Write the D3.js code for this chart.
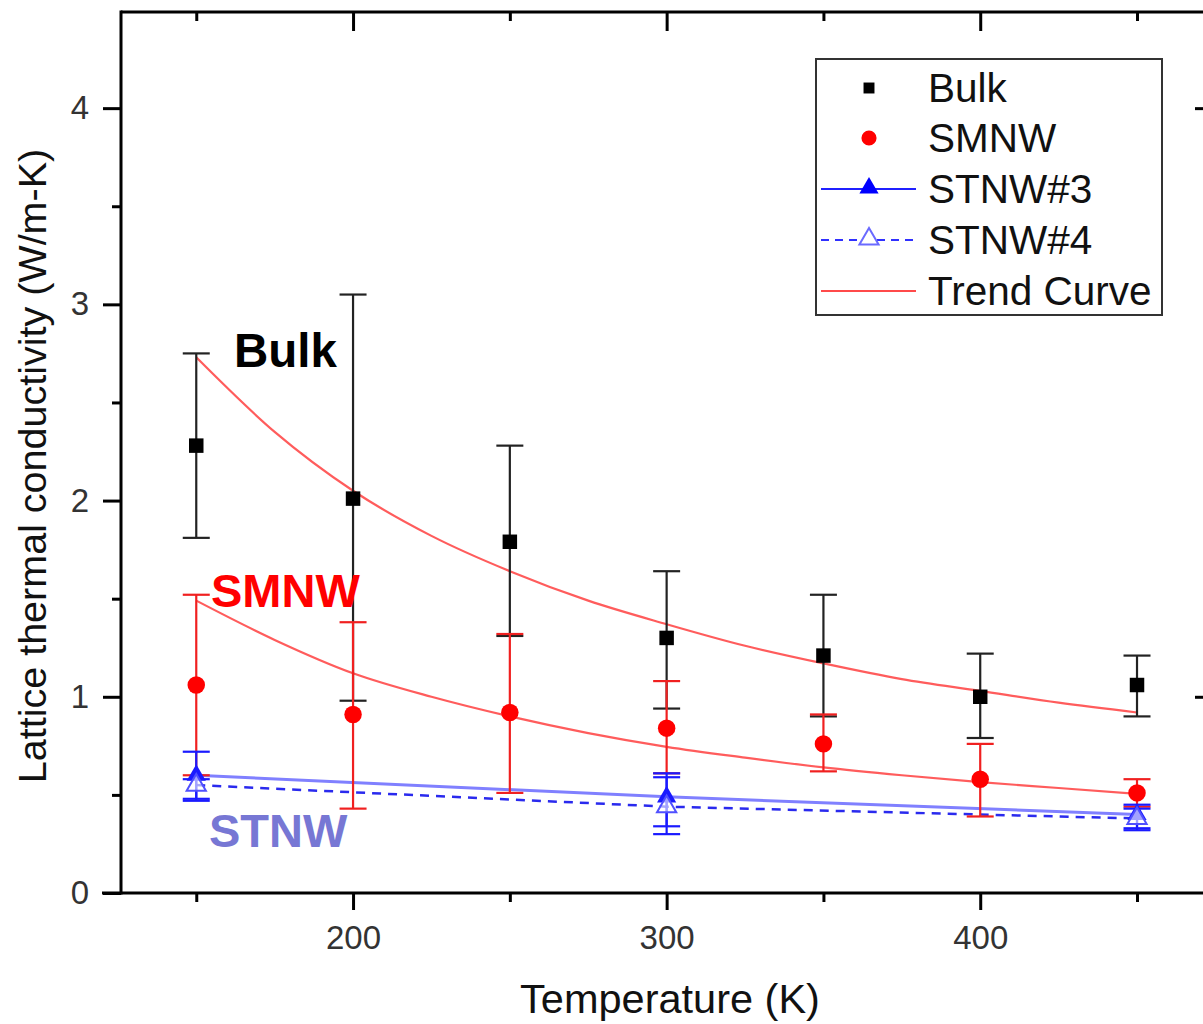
<!DOCTYPE html>
<html><head><meta charset="utf-8">
<script src="https://cdn.jsdelivr.net/npm/d3@7"></script>
<style>
body{margin:0;background:#fff;}
svg{display:block;font-family:"Liberation Sans",Arial,sans-serif;}
</style></head>
<body><svg id="c" width="1203" height="1024"></svg>
<script>
// ---- data ----
const temps   = [150, 200, 250, 300, 350, 400, 450];
const bulk    = [2.28, 2.01, 1.79, 1.30, 1.21, 1.00, 1.06];
const bulkHi  = [2.75, 3.05, 2.28, 1.64, 1.52, 1.22, 1.21];
const bulkLo  = [1.81, 0.98, 1.31, 0.94, 0.90, 0.79, 0.90];
const smnw    = [1.06, 0.91, 0.92, 0.84, 0.76, 0.58, 0.51];
const smnwHi  = [1.52, 1.38, 1.32, 1.08, 0.91, 0.76, 0.58];
const smnwLo  = [0.60, 0.43, 0.51, 0.61, 0.62, 0.39, 0.44];
const stnwT   = [150, 300, 450];
const stnw3   = [0.60, 0.49, 0.40];
const stnw3Hi = [0.72, 0.61, 0.45];
const stnw3Lo = [0.47, 0.30, 0.33];
const stnw4   = [0.55, 0.44, 0.38];
const stnw4Hi = [0.58, 0.59, 0.43];
const stnw4Lo = [0.48, 0.34, 0.32];
const trendT     = [150,175,200,225,250,275,300,325,350,375,400,425,450];
const bulkTrend  = [2.73,2.35,2.05,1.82,1.64,1.49,1.37,1.26,1.17,1.09,1.03,0.97,0.92];
const smnwTrend  = [1.49,1.29,1.12,1.00,0.90,0.815,0.745,0.69,0.64,0.60,0.565,0.535,0.505];
const xMajor = [200, 300, 400];
const xMinor = [150, 250, 350, 450];
const yMajor = [0, 1, 2, 3, 4];
const yMinor = [0.5, 1.5, 2.5, 3.5];
const yRightTicks = [1, 4];
const legendLabels = ["Bulk", "SMNW", "STNW#3", "STNW#4", "Trend Curve"];

// ---- layout ----
const svg = d3.select("#c");
const L = 121, R = 1206, T = 12, B = 893;
const x = d3.scaleLinear().domain([126, 472]).range([L, R]);
const y = d3.scaleLinear().domain([0, 4.49]).range([B, T]);

const RED = "#ff0000", BLUE = "#1a1aff";

function styleAxis(g, w) {
  g.select(".domain").remove();
  g.selectAll(".tick line").attr("stroke", "#000").attr("stroke-width", w);
  g.selectAll(".tick text").attr("fill", "#333").attr("font-size", 33)
    .attr("font-family", "Liberation Sans, Arial, sans-serif");
}

// bottom axis
svg.append("g").attr("transform", `translate(0,${B})`)
  .call(d3.axisBottom(x).tickValues(xMajor).tickSize(17).tickPadding(16).tickFormat(d3.format("d")))
  .call(g => styleAxis(g, 3));
svg.append("g").attr("transform", `translate(0,${B})`)
  .call(d3.axisBottom(x).tickValues(xMinor).tickSize(9).tickFormat(""))
  .call(g => styleAxis(g, 3));
// top axis (inward)
svg.append("g").attr("transform", `translate(0,${T})`)
  .call(d3.axisBottom(x).tickValues(xMajor).tickSize(19).tickFormat(""))
  .call(g => styleAxis(g, 3));
svg.append("g").attr("transform", `translate(0,${T})`)
  .call(d3.axisBottom(x).tickValues(xMinor).tickSize(9).tickFormat(""))
  .call(g => styleAxis(g, 3));
// left axis
svg.append("g").attr("transform", `translate(${L},0)`)
  .call(d3.axisLeft(y).tickValues(yMajor).tickSize(18).tickPadding(14).tickFormat(d3.format("d")))
  .call(g => styleAxis(g, 3));
svg.append("g").attr("transform", `translate(${L},0)`)
  .call(d3.axisLeft(y).tickValues(yMinor).tickSize(9).tickFormat(""))
  .call(g => styleAxis(g, 3));
// right axis (inward)
svg.append("g").attr("transform", `translate(${R},0)`)
  .call(d3.axisLeft(y).tickValues(yRightTicks).tickSize(11).tickFormat(""))
  .call(g => styleAxis(g, 3));

// axis lines
svg.append("line").attr("x1", L - 19).attr("x2", R).attr("y1", B).attr("y2", B).attr("stroke", "#000").attr("stroke-width", 3);
svg.append("line").attr("x1", L).attr("x2", R).attr("y1", T).attr("y2", T).attr("stroke", "#000").attr("stroke-width", 3);
svg.append("line").attr("x1", L).attr("x2", L).attr("y1", T - 1.5).attr("y2", B + 1.5).attr("stroke", "#000").attr("stroke-width", 3);
svg.append("line").attr("x1", R).attr("x2", R).attr("y1", T).attr("y2", B).attr("stroke", "#000").attr("stroke-width", 3);

// axis titles
svg.append("text").attr("x", 670).attr("y", 1013).attr("text-anchor", "middle")
  .attr("font-size", 41.5).attr("fill", "#111").text("Temperature (K)");
svg.append("text").attr("transform", `translate(46,466) rotate(-90)`).attr("text-anchor", "middle")
  .attr("font-size", 39.5).attr("fill", "#111").text("Lattice thermal conductivity (W/m-K)");

const plot = svg.append("g");

// trend curves
const trendLine = d3.line().x(d => x(d[0])).y(d => y(d[1])).curve(d3.curveMonotoneX);
[bulkTrend, smnwTrend].forEach(arr => {
  plot.append("path").datum(trendT.map((t, i) => [t, arr[i]]))
    .attr("d", trendLine).attr("fill", "none")
    .attr("stroke", "#ff4a4a").attr("stroke-width", 2.2).attr("opacity", 0.9);
});

// STNW lines
const lin = d3.line().x(d => x(d[0])).y(d => y(d[1]));
plot.append("path").datum(stnwT.map((t, i) => [t, stnw3[i]]))
  .attr("d", lin).attr("fill", "none").attr("stroke", "#8080ff").attr("stroke-width", 3);
plot.append("path").datum(stnwT.map((t, i) => [t, stnw4[i]]))
  .attr("d", lin).attr("fill", "none").attr("stroke", "#2a2aee").attr("stroke-width", 2.5)
  .attr("stroke-dasharray", "9,7");

// error bars
function errBars(ts, hi, lo, color, capW, sw) {
  const g = plot.append("g").attr("stroke", color).attr("stroke-width", sw);
  ts.forEach((t, i) => {
    const cx = x(t);
    g.append("line").attr("x1", cx).attr("x2", cx).attr("y1", y(hi[i])).attr("y2", y(lo[i]));
    g.append("line").attr("x1", cx - capW / 2).attr("x2", cx + capW / 2).attr("y1", y(hi[i])).attr("y2", y(hi[i]));
    g.append("line").attr("x1", cx - capW / 2).attr("x2", cx + capW / 2).attr("y1", y(lo[i])).attr("y2", y(lo[i]));
  });
}
errBars(temps, bulkHi, bulkLo, "#222", 27, 2.2);
errBars(temps, smnwHi, smnwLo, "#f02020", 27, 2.2);
errBars(stnwT, stnw3Hi, stnw3Lo, BLUE, 27, 2.2);
errBars(stnwT, stnw4Hi, stnw4Lo, BLUE, 27, 2.2);

// markers
const sq = d3.symbol().type(d3.symbolSquare).size(210);
const ci = d3.symbol().type(d3.symbolCircle).size(240);
const tri = d3.symbol().type(d3.symbolTriangle).size(160);
temps.forEach((t, i) => {
  plot.append("path").attr("d", sq).attr("transform", `translate(${x(t)},${y(bulk[i])})`).attr("fill", "#000");
  plot.append("path").attr("d", ci).attr("transform", `translate(${x(t)},${y(smnw[i])})`).attr("fill", RED);
});
stnwT.forEach((t, i) => {
  plot.append("path").attr("d", tri).attr("transform", `translate(${x(t)},${y(stnw3[i])})`).attr("fill", BLUE);
  plot.append("path").attr("d", tri).attr("transform", `translate(${x(t)},${y(stnw4[i])})`)
    .attr("fill", "#fff").attr("fill-opacity", 0.6).attr("stroke", "#5050ff").attr("stroke-width", 2);
});

// annotations
svg.append("text").attr("x", 234).attr("y", 367).attr("font-size", 47.5).attr("font-weight", "bold").attr("fill", "#000").text("Bulk");
svg.append("text").attr("x", 211).attr("y", 607).attr("font-size", 47).attr("font-weight", "bold").attr("fill", "#ff0000").text("SMNW");
svg.append("text").attr("x", 209).attr("y", 847).attr("font-size", 47).attr("font-weight", "bold").attr("fill", "#7777d4").text("STNW");

// legend
const lg = svg.append("g");
lg.append("rect").attr("x", 816).attr("y", 59).attr("width", 346).attr("height", 256)
  .attr("fill", "#fff").attr("stroke", "#333").attr("stroke-width", 2);
const rowY = [88, 138, 189, 240, 291];
const sx = 869;
lg.append("path").attr("d", d3.symbol().type(d3.symbolSquare).size(120)).attr("transform", `translate(${sx},${rowY[0]})`).attr("fill", "#000");
lg.append("path").attr("d", d3.symbol().type(d3.symbolCircle).size(180)).attr("transform", `translate(${sx},${rowY[1]})`).attr("fill", RED);
lg.append("line").attr("x1", 821).attr("x2", 916).attr("y1", rowY[2]).attr("y2", rowY[2]).attr("stroke", "#2020ff").attr("stroke-width", 2);
lg.append("path").attr("d", tri).attr("transform", `translate(${sx},${rowY[2] - 1})`).attr("fill", "#0000ff");
lg.append("line").attr("x1", 821).attr("x2", 916).attr("y1", rowY[3]).attr("y2", rowY[3]).attr("stroke", "#3030ff").attr("stroke-width", 2).attr("stroke-dasharray", "8,6");
lg.append("path").attr("d", tri).attr("transform", `translate(${sx},${rowY[3] - 1})`).attr("fill", "#fff").attr("stroke", "#6a6aff").attr("stroke-width", 2);
lg.append("line").attr("x1", 821).attr("x2", 916).attr("y1", rowY[4]).attr("y2", rowY[4]).attr("stroke", "#ff4a4a").attr("stroke-width", 2);
legendLabels.forEach((s, i) => {
  lg.append("text").attr("x", 928).attr("y", rowY[i] + 14).attr("font-size", 40.5).attr("fill", "#111").text(s);
});
</script></body></html>
